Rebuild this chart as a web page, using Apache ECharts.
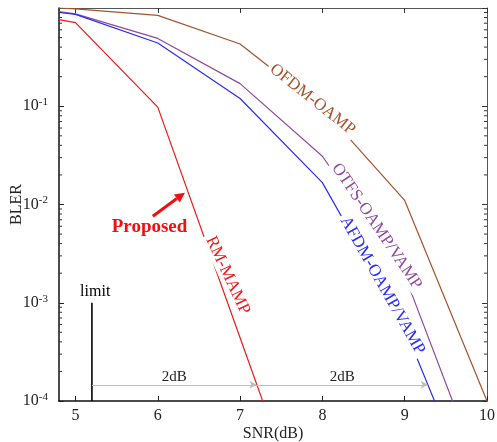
<!DOCTYPE html>
<html>
<head>
<meta charset="utf-8">
<script src="https://cdn.jsdelivr.net/npm/echarts@6/dist/echarts.min.js"></script>
<style>
  html, body { margin: 0; padding: 0; background: #fff; }
  #chart { width: 497px; height: 442px; }
</style>
</head>
<body>
<div id="chart"></div>
<script>
// SNR grid used by the simulations
var snr = [4.8, 5, 6, 7, 8, 9, 10];
var rmSnr = [4.8, 5, 6, 7, 8];

// BLER values
var ofdm = [1.0, 0.98, 0.84, 0.43, 0.095, 0.011, 0.0001];
var otfs = [0.92, 0.87, 0.49, 0.17, 0.031, 0.0019, 0.000012];
var afdm = [0.9, 0.86, 0.44, 0.12, 0.0167, 0.00055, 0.000005];
var rm = [0.76, 0.71, 0.098, 0.00044, 0.000002];

// limit marker and 2dB gap annotation
var limitSnr = 5.2;
var limitBler = [0.001, 0.0001];
var gapBler = 0.000146;
var gapPoints = [5.2, 7.2, 9.28];

var minorTicks = [];
[0.0001, 0.001, 0.01, 0.1].forEach(function (d) {
  for (var k = 2; k <= 9; k++) minorTicks.push(d * k);
});

function pairs(xs, ys) {
  return ys.map(function (y, i) { return [xs[i], y]; });
}

var serif = 'Liberation Serif';
var chart = echarts.init(document.getElementById('chart'));

var option = {
  animation: false,
  grid: { left: 59, right: 10, top: 8, bottom: 41, outerBoundsMode: 'none', containLabel: false },
  textStyle: { fontFamily: serif },
  xAxis: [{
    type: 'value', min: 4.8, max: 10,
    name: 'SNR(dB)', nameLocation: 'middle', nameGap: 25, nameMoveOverlap: false,
    nameTextStyle: { fontFamily: serif, fontSize: 16, color: '#222' },
    axisLine: { lineStyle: { color: '#111', width: 1.5 } },
    axisTick: { inside: true, length: 5, lineStyle: { color: '#222' } },
    axisLabel: { showMinLabel: false, fontFamily: serif, fontSize: 16, color: '#222', margin: 7 },
    splitLine: { show: false }
  }, {
    type: 'value', min: 4.8, max: 10, position: 'top',
    axisLine: { lineStyle: { color: '#555' } },
    axisTick: { inside: true, length: 5, lineStyle: { color: '#333' } },
    axisLabel: { show: false },
    splitLine: { show: false }
  }],
  yAxis: [{
    type: 'log', logBase: 10, min: 0.0001, max: 1,
    name: 'BLER', nameLocation: 'middle', nameGap: 34, nameMoveOverlap: false,
    nameTextStyle: { fontFamily: serif, fontSize: 16, color: '#222' },
    axisLine: { lineStyle: { color: '#111', width: 1.5 } },
    axisTick: { inside: true, length: 5, lineStyle: { color: '#222' } },
    axisLabel: {
      showMaxLabel: false, margin: 11,
      formatter: function (v) {
        return '10{s|' + Math.round(Math.log10(v)) + '}';
      },
      fontFamily: serif, fontSize: 16, color: '#222',
      rich: { s: { fontFamily: serif, fontSize: 11, color: '#222', verticalAlign: 'top', padding: [0, 0, 8, 0] } }
    },
    splitLine: { show: false }
  }, {
    type: 'log', logBase: 10, min: 0.0001, max: 1, position: 'right',
    axisLine: { lineStyle: { color: '#555' } },
    axisTick: { inside: true, length: 5, lineStyle: { color: '#333' } },
    axisLabel: { show: false },
    splitLine: { show: false }
  }],
  series: [
    {
      name: 'OFDM-OAMP', type: 'line', data: pairs(snr, ofdm),
      symbol: 'none', lineStyle: { color: '#a5532e', width: 1.2 }, z: 2
    },
    {
      name: 'OTFS-OAMP/VAMP', type: 'line', data: pairs(snr, otfs),
      symbol: 'none', lineStyle: { color: '#8e4a9e', width: 1.2 }, z: 2
    },
    {
      name: 'AFDM-OAMP/VAMP', type: 'line', data: pairs(snr, afdm),
      symbol: 'none', lineStyle: { color: '#2a2cf5', width: 1.2 }, z: 2
    },
    {
      name: 'RM-MAMP', type: 'line', data: pairs(rmSnr, rm),
      symbol: 'none', lineStyle: { color: '#f01818', width: 1.2 }, z: 2
    },
    {
      name: 'limit', type: 'line',
      data: limitBler.map(function (b) { return [limitSnr, b]; }),
      symbol: 'none', lineStyle: { color: '#000', width: 1.6 }, z: 3
    },
    {
      name: 'gap', type: 'line', data: [], z: 1,
      markLine: {
        silent: true, symbol: ['none', 'arrow'], symbolSize: [6, 7],
        lineStyle: { color: '#bdbdbd', width: 1, type: 'solid' },
        label: {
          show: true, position: 'insideMiddleTop', formatter: '2dB',
          fontFamily: serif, fontSize: 15, color: '#222', distance: 0
        },
        data: [
          [{ coord: [gapPoints[0], gapBler] }, { coord: [gapPoints[1], gapBler] }],
          [{ coord: [gapPoints[1], gapBler] }, { coord: [gapPoints[2], gapBler] }]
        ]
      }
    },
    {
      name: 'minor', type: 'custom', data: minorTicks, silent: true, z: 4,
      renderItem: function (params, api) {
        var cs = params.coordSys;
        var y = api.coord([4.8, api.value(0)])[1];
        var st = { stroke: '#333', lineWidth: 1 };
        return {
          type: 'group',
          children: [
            { type: 'line', shape: { x1: cs.x, y1: y, x2: cs.x + 3, y2: y }, style: st },
            { type: 'line', shape: { x1: cs.x + cs.width, y1: y, x2: cs.x + cs.width - 3, y2: y }, style: st }
          ]
        };
      },
      encode: { y: 0 }
    }
  ]
};
chart.setOption(option);

// curve labels and annotations, placed from data coordinates
function px(x, y) { return chart.convertToPixel({ xAxisIndex: 0, yAxisIndex: 0 }, [x, y]); }

function curveLabel(text, at, deg, color) {
  var p = px(at[0], at[1]);
  return {
    type: 'text', x: p[0], y: p[1], rotation: -deg * Math.PI / 180, z: 10,
    style: {
      text: text, fill: color, font: '17px "' + serif + '"',
      align: 'center', verticalAlign: 'middle',
      backgroundColor: '#fff', padding: [0, 3]
    }
  };
}

var arrowFrom = px(5.94, 0.0076);
var arrowTo = px(6.33, 0.0132);
var ang = Math.atan2(arrowTo[1] - arrowFrom[1], arrowTo[0] - arrowFrom[0]);
var head = 10, wid = 5;
var hx = arrowTo[0] - head * Math.cos(ang), hy = arrowTo[1] - head * Math.sin(ang);
var limitPos = px(5.24, 0.0013);
var propPos = px(5.9, 0.0059);

chart.setOption({
  graphic: [
    curveLabel('OFDM-OAMP', [7.88, 0.117], 38.5, '#a5532e'),
    curveLabel('OTFS-OAMP/VAMP', [8.66, 0.006], 56, '#8e4a9e'),
    curveLabel('AFDM-OAMP/VAMP', [8.73, 0.0015], 60.5, '#2a2cf5'),
    curveLabel('RM-MAMP', [6.85, 0.0019], 65, '#f01818'),
    {
      type: 'text', x: limitPos[0], y: limitPos[1], z: 10,
      style: { text: 'limit', fill: '#000', font: '16px "' + serif + '"', align: 'center', verticalAlign: 'middle' }
    },
    {
      type: 'text', x: propPos[0], y: propPos[1], z: 10,
      style: { text: 'Proposed', fill: '#f01010', font: 'bold 19px "' + serif + '"', align: 'center', verticalAlign: 'middle' }
    },
    {
      type: 'line', z: 10,
      shape: { x1: arrowFrom[0], y1: arrowFrom[1], x2: hx, y2: hy },
      style: { stroke: '#f01010', lineWidth: 3 }
    },
    {
      type: 'polygon', z: 10,
      shape: {
        points: [
          arrowTo,
          [hx + wid * Math.sin(ang), hy - wid * Math.cos(ang)],
          [hx - wid * Math.sin(ang), hy + wid * Math.cos(ang)]
        ]
      },
      style: { fill: '#f01010' }
    }
  ]
});
</script>
</body>
</html>
